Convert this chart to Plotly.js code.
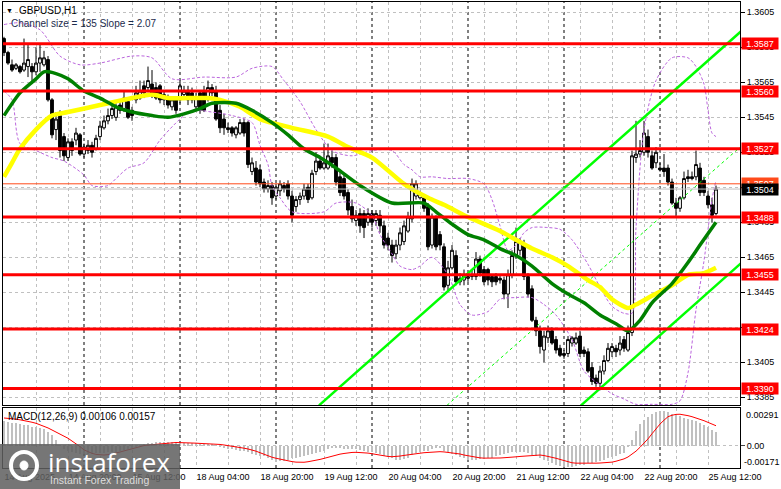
<!DOCTYPE html>
<html><head><meta charset="utf-8">
<script src="https://cdn.plot.ly/plotly-3.0.1.min.js"></script>
<style>html,body{margin:0;padding:0;background:#fff}#chart{width:781px;height:489px}</style>
</head><body><div id="chart"></div>
<script>
// ---- GBPUSD H1 candles (bar 0 = 14 Aug 04:00) ----
const open = [
1.3590,1.3582,1.3575,1.3573,1.3574,1.3572,1.3574,1.3574,1.3571,1.3576,
1.3575,1.3578,1.3555,1.3538,1.3546,1.3534,1.3522,1.3531,1.3532,1.3535,
1.3524,1.3526,1.3529,1.3527,1.3534,1.3539,1.3543,1.3546,1.3545,1.3552,
1.3550,1.3554,1.3549,1.3555,1.3556,1.3563,1.3562,1.3564,1.3562,1.3563,
1.3555,1.3556,1.3551,1.3555,1.3555,1.3558,1.3560,1.3559,1.3551,1.3559,
1.3560,1.3556,1.3562,1.3560,1.3549,1.3544,1.3539,1.3539,1.3535,1.3536,
1.3542,1.3542,1.3514,1.3516,1.3515,1.3508,1.3504,1.3506,1.3500,1.3503,
1.3506,1.3507,1.3500,1.3494,1.3498,1.3500,1.3505,1.3499,1.3514,1.3520,
1.3516,1.3516,1.3522,1.3522,1.3511,1.3510,1.3502,1.3494,1.3486,1.3490,
1.3490,1.3485,1.3490,1.3486,1.3489,1.3483,1.3476,1.3472,1.3467,1.3472,
1.3474,1.3480,1.3487,1.3500,1.3499,1.3499,1.3494,1.3472,1.3488,1.3478,
1.3471,1.3449,1.3459,1.3466,1.3451,1.3452,1.3453,1.3454,1.3454,1.3464,
1.3458,1.3458,1.3454,1.3454,1.3453,1.3452,1.3444,1.3455,1.3466,1.3469,
1.3472,1.3454,1.3447,1.3429,1.3423,1.3412,1.3419,1.3423,1.3418,1.3413,
1.3410,1.3410,1.3416,1.3416,1.3420,1.3412,1.3411,1.3402,1.3396,1.3393,
1.3400,1.3406,1.3411,1.3413,1.3412,1.3418,1.3412,1.3422,1.3522,1.3524,
1.3525,1.3534,1.3523,1.3519,1.3516,1.3516,1.3516,1.3508,1.3496,1.3493,
1.3499,1.3511,1.3511,1.3511,1.3516,1.3509,1.3500,1.3495,1.3490];
const high = [
1.3591,1.3583,1.3578,1.3576,1.3575,1.3590,1.3587,1.3576,1.3585,1.3587,
1.3583,1.3580,1.3556,1.3548,1.3549,1.3536,1.3533,1.3533,1.3539,1.3536,
1.3530,1.3532,1.3531,1.3535,1.3543,1.3546,1.3550,1.3552,1.3553,1.3555,
1.3560,1.3556,1.3551,1.3563,1.3566,1.3566,1.3574,1.3572,1.3565,1.3564,
1.3560,1.3558,1.3557,1.3556,1.3566,1.3563,1.3563,1.3562,1.3559,1.3560,
1.3563,1.3566,1.3564,1.3563,1.3552,1.3547,1.3542,1.3540,1.3540,1.3544,
1.3544,1.3543,1.3522,1.3520,1.3518,1.3510,1.3509,1.3508,1.3507,1.3509,
1.3508,1.3509,1.3503,1.3500,1.3502,1.3507,1.3507,1.3515,1.3525,1.3523,
1.3530,1.3530,1.3526,1.3524,1.3514,1.3512,1.3504,1.3498,1.3492,1.3493,
1.3492,1.3493,1.3492,1.3492,1.3492,1.3486,1.3479,1.3475,1.3475,1.3482,
1.3486,1.3491,1.3510,1.3509,1.3503,1.3500,1.3496,1.3490,1.3489,1.3480,
1.3473,1.3463,1.3472,1.3469,1.3456,1.3458,1.3456,1.3458,1.3468,1.3466,
1.3460,1.3459,1.3455,1.3456,1.3455,1.3454,1.3458,1.3469,1.3482,1.3476,
1.3475,1.3456,1.3449,1.3431,1.3426,1.3423,1.3426,1.3425,1.3420,1.3415,
1.3412,1.3420,1.3420,1.3422,1.3423,1.3414,1.3413,1.3405,1.3398,1.3403,
1.3409,1.3416,1.3416,1.3415,1.3420,1.3420,1.3426,1.3526,1.3543,1.3532,
1.3543,1.3538,1.3526,1.3528,1.3519,1.3524,1.3518,1.3510,1.3499,1.3500,
1.3514,1.3515,1.3514,1.3526,1.3519,1.3511,1.3503,1.3499,1.3506];
const low = [
1.3580,1.3575,1.3571,1.3572,1.3570,1.3571,1.3568,1.3564,1.3569,1.3571,
1.3574,1.3554,1.3533,1.3532,1.3522,1.3520,1.3520,1.3523,1.3529,1.3523,
1.3522,1.3524,1.3522,1.3526,1.3532,1.3538,1.3541,1.3544,1.3543,1.3547,
1.3548,1.3544,1.3543,1.3553,1.3555,1.3556,1.3560,1.3556,1.3555,1.3553,
1.3552,1.3550,1.3549,1.3547,1.3553,1.3555,1.3552,1.3553,1.3549,1.3547,
1.3548,1.3554,1.3557,1.3543,1.3536,1.3535,1.3536,1.3534,1.3533,1.3535,
1.3534,1.3516,1.3512,1.3506,1.3505,1.3502,1.3502,1.3495,1.3498,1.3500,
1.3502,1.3498,1.3485,1.3491,1.3495,1.3498,1.3496,1.3498,1.3512,1.3515,
1.3515,1.3515,1.3516,1.3506,1.3500,1.3498,1.3489,1.3485,1.3483,1.3479,
1.3476,1.3483,1.3482,1.3483,1.3479,1.3470,1.3469,1.3462,1.3464,1.3469,
1.3472,1.3479,1.3485,1.3498,1.3498,1.3491,1.3469,1.3470,1.3469,1.3469,
1.3446,1.3446,1.3458,1.3449,1.3449,1.3449,1.3451,1.3452,1.3452,1.3454,
1.3449,1.3449,1.3448,1.3449,1.3450,1.3441,1.3436,1.3453,1.3464,1.3466,
1.3452,1.3442,1.3428,1.3420,1.3410,1.3405,1.3416,1.3415,1.3410,1.3408,
1.3407,1.3408,1.3414,1.3415,1.3408,1.3408,1.3399,1.3392,1.3391,1.3389,
1.3398,1.3405,1.3408,1.3408,1.3409,1.3411,1.3411,1.3420,1.3519,1.3522,
1.3523,1.3522,1.3515,1.3516,1.3514,1.3511,1.3506,1.3495,1.3488,1.3491,
1.3498,1.3508,1.3509,1.3509,1.3500,1.3500,1.3493,1.3485,1.3489];
const close = [
1.3582,1.3576,1.3572,1.3575,1.3571,1.3576,1.3578,1.3571,1.3576,1.3579,
1.3579,1.3555,1.3535,1.3544,1.3526,1.3523,1.3531,1.3526,1.3536,1.3524,
1.3528,1.3529,1.3525,1.3533,1.3540,1.3543,1.3546,1.3550,1.3551,1.3549,
1.3556,1.3545,1.3546,1.3559,1.3560,1.3559,1.3566,1.3558,1.3556,1.3555,
1.3558,1.3552,1.3555,1.3549,1.3563,1.3560,1.3555,1.3555,1.3556,1.3549,
1.3549,1.3562,1.3559,1.3544,1.3539,1.3539,1.3538,1.3536,1.3539,1.3542,
1.3536,1.3518,1.3519,1.3508,1.3507,1.3504,1.3506,1.3499,1.3505,1.3507,
1.3504,1.3500,1.3489,1.3498,1.3500,1.3504,1.3498,1.3513,1.3520,1.3516,
1.3519,1.3523,1.3519,1.3508,1.3502,1.3500,1.3492,1.3487,1.3489,1.3483,
1.3482,1.3490,1.3485,1.3490,1.3483,1.3472,1.3472,1.3466,1.3472,1.3479,
1.3483,1.3488,1.3507,1.3507,1.3502,1.3493,1.3471,1.3488,1.3471,1.3472,
1.3448,1.3459,1.3469,1.3451,1.3453,1.3455,1.3454,1.3455,1.3464,1.3456,
1.3451,1.3452,1.3451,1.3451,1.3452,1.3444,1.3455,1.3466,1.3474,1.3474,
1.3454,1.3444,1.3429,1.3423,1.3414,1.3420,1.3423,1.3416,1.3412,1.3409,
1.3409,1.3418,1.3419,1.3419,1.3410,1.3410,1.3400,1.3394,1.3393,1.3400,
1.3406,1.3413,1.3414,1.3411,1.3416,1.3413,1.3422,1.3523,1.3524,1.3526,
1.3536,1.3525,1.3516,1.3525,1.3515,1.3514,1.3508,1.3496,1.3493,1.3499,
1.3510,1.3510,1.3510,1.3518,1.3502,1.3502,1.3495,1.3489,1.3504];

// ---- moving averages (sampled: bar index, price) ----
const maGreenBar = [0,4,8,10,13,16,20,24,28,32,37,41,45,49,52,58,62,67,71,75,79,83,89,97,105,108,112,116,120,124,128,132,137,141,145,149,153,156,159,162,167,171,174,178];
const maGreenVal = [1.3546,1.3559,1.3567,1.3571,1.3570,1.3567,1.3560,1.3556,1.3551,1.3548,1.3546,1.3545,1.3547,1.3550,1.3553,1.3553,1.3549,1.3542,1.3535,1.3527,1.3522,1.3516,1.3506,1.3496,1.3496,1.3491,1.3484,1.3478,1.3475,1.3470,1.3466,1.3460,1.3450,1.3444,1.3439,1.3432,1.3427,1.3423,1.3429,1.3439,1.3450,1.3462,1.3472,1.3485];
const maYellowBar = [0,2,4,8,12,16,24,32,37,41,46,51,54,59,64,72,81,86,92,100,106,110,116,124,132,137,141,146,149,152,156,158,162,167,171,175,178];
const maYellowVal = [1.3511,1.3519,1.3527,1.3538,1.3546,1.3548,1.3552,1.3556,1.3558,1.3556,1.3556,1.3556,1.3555,1.3551,1.3544,1.3539,1.3534,1.3528,1.3522,1.3507,1.3499,1.3495,1.3488,1.3480,1.3470,1.3465,1.3460,1.3452,1.3448,1.3441,1.3436,1.3438,1.3443,1.3449,1.3455,1.3456,1.3459];

// ---- envelope bands (dotted purple) ----
const bandUpBar = [0,4,9,14,19,24,32,37,42,50,58,62,67,70,74,78,82,87,92,97,100,102,104,107,111,116,120,122,124,126,128,130,132,136,139,142,146,149,152,155,157,158,160,163,167,171,173,175,176,177,178];
const bandUpVal = [1.3598,1.3599,1.3595,1.3580,1.3575,1.3576,1.3580,1.3579,1.3567,1.3568,1.3568,1.3573,1.3574,1.3566,1.3554,1.3538,1.3526,1.3523,1.3526,1.3526,1.3518,1.3515,1.3511,1.3511,1.3510,1.3510,1.3507,1.3498,1.3483,1.3469,1.3472,1.3479,1.3482,1.3482,1.3481,1.3475,1.3461,1.3448,1.3437,1.3433,1.3433,1.3482,1.3538,1.3566,1.3579,1.3579,1.3574,1.3564,1.3549,1.3536,1.3534];
const bandLoBar = [0,2,4,8,12,15,20,22,26,28,31,35,39,44,47,52,57,62,64,66,67,69,72,80,83,88,92,94,97,99,102,104,107,111,114,117,121,124,128,132,135,138,142,145,149,152,155,158,162,167,169,171,173,175,177,178];
const bandLoVal = [1.3560,1.3555,1.3530,1.3526,1.3522,1.3520,1.3512,1.3506,1.3506,1.3510,1.3516,1.3519,1.3532,1.3544,1.3549,1.3548,1.3546,1.3542,1.3529,1.3518,1.3506,1.3499,1.3491,1.3491,1.3496,1.3496,1.3489,1.3478,1.3467,1.3460,1.3458,1.3460,1.3465,1.3455,1.3438,1.3432,1.3434,1.3441,1.3442,1.3442,1.3438,1.3432,1.3418,1.3400,1.3392,1.3387,1.3384,1.3381,1.3381,1.3381,1.3383,1.3399,1.3435,1.3463,1.3498,1.3509];

// ---- regression channel (bar index, price) ----
const chanUpBar = [78.75, 184.25], chanUpVal = [1.33804, 1.35941];
const chanMidBar = [110.75, 184.25], chanMidVal = [1.33804, 1.35284];
const chanLoBar = [144.25, 184.25], chanLoVal = [1.33804, 1.34616];

// ---- horizontal levels ----
const levels = [1.3587, 1.3560, 1.3527, 1.3488, 1.3455, 1.3424, 1.3390];
const askPrice = 1.3507, bidPrice = 1.3504;

// ---- MACD(12,26,9) ----
const macdHist = [
0.00190,0.00185,0.00180,0.00175,0.00170,0.00165,0.00160,0.00150,0.00145,0.00140,
0.00130,0.00110,0.00085,0.00050,0.00010,-0.00020,-0.00040,-0.00050,-0.00055,-0.00060,
-0.00060,-0.00060,-0.00060,-0.00055,-0.00055,-0.00055,-0.00050,-0.00050,-0.00045,-0.00040,
-0.00030,-0.00025,-0.00015,-0.00005,0.00005,0.00015,0.00020,0.00025,0.00030,0.00030,
0.00030,0.00030,0.00030,0.00025,0.00025,0.00025,0.00025,0.00020,0.00020,0.00015,
0.00015,0.00015,0.00015,0.00005,-0.00005,-0.00015,-0.00020,-0.00025,-0.00030,-0.00035,
-0.00040,-0.00050,-0.00060,-0.00070,-0.00075,-0.00080,-0.00090,-0.00110,-0.00124,-0.00120,
-0.00115,-0.00105,-0.00095,-0.00090,-0.00085,-0.00075,-0.00070,-0.00065,-0.00055,-0.00045,
-0.00035,-0.00025,-0.00015,-0.00015,-0.00015,-0.00020,-0.00020,-0.00020,-0.00025,-0.00030,
-0.00040,-0.00045,-0.00050,-0.00055,-0.00065,-0.00075,-0.00085,-0.00095,-0.00110,-0.00105,
-0.00100,-0.00090,-0.00070,-0.00055,-0.00045,-0.00040,-0.00035,-0.00020,-0.00015,-0.00015,
-0.00035,-0.00050,-0.00065,-0.00070,-0.00085,-0.00095,-0.00105,-0.00110,-0.00105,-0.00100,
-0.00100,-0.00095,-0.00090,-0.00080,-0.00070,-0.00065,-0.00055,-0.00050,-0.00045,-0.00043,
-0.00045,-0.00055,-0.00070,-0.00080,-0.00095,-0.00110,-0.00120,-0.00135,-0.00145,-0.00155,
-0.00160,-0.00163,-0.00160,-0.00155,-0.00150,-0.00145,-0.00135,-0.00130,-0.00125,-0.00115,
-0.00105,-0.00095,-0.00085,-0.00075,-0.00065,-0.00055,-0.00010,0.00050,0.00120,0.00170,
0.00200,0.00225,0.00245,0.00265,0.00275,0.00270,0.00260,0.00245,0.00240,0.00230,
0.00220,0.00210,0.00200,0.00190,0.00175,0.00160,0.00145,0.00125,0.00106];
const macdSignal = [
0.00217,0.00215,0.00212,0.00208,0.00203,0.00198,0.00192,0.00184,0.00176,0.00166,
0.00155,0.00140,0.00124,0.00110,0.00094,0.00076,0.00060,0.00040,0.00020,-0.00005,
-0.00030,-0.00045,-0.00057,-0.00065,-0.00070,-0.00070,-0.00067,-0.00062,-0.00055,-0.00047,
-0.00038,-0.00029,-0.00018,-0.00010,-0.00003,0.00003,0.00007,0.00010,0.00015,0.00019,
0.00023,0.00026,0.00027,0.00027,0.00026,0.00026,0.00025,0.00023,0.00022,0.00020,
0.00019,0.00018,0.00017,0.00015,0.00012,0.00008,0.00004,0.00000,-0.00005,-0.00011,
-0.00017,-0.00023,-0.00030,-0.00040,-0.00052,-0.00065,-0.00078,-0.00087,-0.00095,-0.00103,
-0.00110,-0.00116,-0.00121,-0.00125,-0.00127,-0.00126,-0.00122,-0.00117,-0.00112,-0.00104,
-0.00096,-0.00087,-0.00078,-0.00070,-0.00063,-0.00058,-0.00053,-0.00050,-0.00049,-0.00050,
-0.00052,-0.00055,-0.00060,-0.00066,-0.00072,-0.00078,-0.00081,-0.00083,-0.00082,-0.00078,
-0.00073,-0.00070,-0.00065,-0.00060,-0.00056,-0.00052,-0.00049,-0.00046,-0.00044,-0.00044,
-0.00046,-0.00049,-0.00052,-0.00055,-0.00062,-0.00070,-0.00077,-0.00083,-0.00088,-0.00092,
-0.00094,-0.00095,-0.00095,-0.00094,-0.00093,-0.00091,-0.00090,-0.00087,-0.00084,-0.00081,
-0.00078,-0.00075,-0.00072,-0.00071,-0.00070,-0.00074,-0.00080,-0.00087,-0.00095,-0.00104,
-0.00113,-0.00122,-0.00130,-0.00133,-0.00134,-0.00134,-0.00134,-0.00134,-0.00133,-0.00132,
-0.00131,-0.00130,-0.00125,-0.00118,-0.00110,-0.00100,-0.00085,-0.00065,-0.00040,-0.00010,
0.00020,0.00055,0.00095,0.00135,0.00170,0.00200,0.00227,0.00238,0.00245,0.00246,
0.00242,0.00235,0.00227,0.00218,0.00207,0.00196,0.00183,0.00169,0.00157];

// ---- axis labels ----
const xTickBars = [0,16,32,48,64,80,96,112,128,144,160,176];
const xTickText = ['14 Aug 2025','14 Aug 20:00','15 Aug 12:00','18 Aug 04:00','18 Aug 20:00','19 Aug 12:00','20 Aug 04:00','20 Aug 20:00','21 Aug 12:00','22 Aug 04:00','22 Aug 20:00','25 Aug 12:00'];
const daySeparators = [20,44,68,92,116,140,164];
const priceTicks = [1.3385,1.3405,1.3425,1.3445,1.3465,1.3485,1.3505,1.3525,1.3545,1.3565,1.3585,1.3605];
const macdTicks = [0.00291, 0, -0.00171];

// ---------------------------------------------------------------
const F = 'Liberation Sans, Arial, sans-serif';
const bars = open.map((_, i) => i);
const gridBars = [];
for (let b = 0; b <= 184; b += 8) gridBars.push(b);
const gridText = gridBars.map(b => { const k = xTickBars.indexOf(b); return k >= 0 ? xTickText[k] : ''; });
const GRID = '#c0c0c0';
const PURPLE = '#bb66dd';

const traces = [
  {type:'scatter', mode:'lines', x:bandUpBar, y:bandUpVal, line:{color:PURPLE, width:1, dash:'3px,2px', shape:'spline', smoothing:0.8}, hoverinfo:'skip'},
  {type:'scatter', mode:'lines', x:bandLoBar, y:bandLoVal, line:{color:PURPLE, width:1, dash:'3px,2px', shape:'spline', smoothing:0.8}, hoverinfo:'skip'},
  {type:'scatter', mode:'lines', x:chanMidBar, y:chanMidVal, line:{color:'#00ff00', width:1, dash:'3px,3px'}, hoverinfo:'skip'},
  {type:'scatter', mode:'lines', x:chanUpBar, y:chanUpVal, line:{color:'#00ff00', width:2.5}, hoverinfo:'skip'},
  {type:'scatter', mode:'lines', x:chanLoBar, y:chanLoVal, line:{color:'#00ff00', width:2.5}, hoverinfo:'skip'},
  {type:'scatter', mode:'lines', x:maYellowBar, y:maYellowVal, line:{color:'#ffff00', width:4.5, shape:'spline', smoothing:0.7}, hoverinfo:'skip'},
  {type:'scatter', mode:'lines', x:maGreenBar, y:maGreenVal, line:{color:'#008000', width:3.5, shape:'spline', smoothing:0.7}, hoverinfo:'skip'},
  {type:'candlestick', x:bars, open:open, high:high, low:low, close:close, whiskerwidth:0,
   increasing:{line:{color:'#000000', width:1}, fillcolor:'#ffffff'},
   decreasing:{line:{color:'#000000', width:1}, fillcolor:'#000000'}, hoverinfo:'skip'},
  {type:'bar', x:bars, y:macdHist, xaxis:'x2', yaxis:'y2', marker:{color:'#c0c0c0', line:{width:0}}, width:0.55, hoverinfo:'skip'},
  {type:'scatter', mode:'lines', x:bars, y:macdSignal, xaxis:'x2', yaxis:'y2', line:{color:'#ff0000', width:1}, hoverinfo:'skip'}
];

// pixel helpers for paper coords (plot area: x 3..740, y 2..468)
const px = v => (v - 3) / 737;
const py = v => (468 - v) / 466;

const shapes = [];
levels.forEach(l => shapes.push({type:'line', xref:'x domain', x0:0, x1:1, yref:'y', y0:l, y1:l, line:{color:'#ff0000', width:3}, layer:'above'}));
shapes.push({type:'line', xref:'x domain', x0:0, x1:1, yref:'y', y0:askPrice, y1:askPrice, line:{color:'#ff4a1a', width:1}, layer:'above'});
shapes.push({type:'line', xref:'x domain', x0:0, x1:1, yref:'y', y0:bidPrice, y1:bidPrice, line:{color:'#c0c0c0', width:1}, layer:'above'});
daySeparators.forEach(d => {
  shapes.push({type:'line', xref:'x', x0:d, x1:d, yref:'y domain', y0:0, y1:1, line:{color:'#000', width:1, dash:'3px,3px'}, layer:'below'});
  shapes.push({type:'line', xref:'x2', x0:d, x1:d, yref:'y2 domain', y0:0, y1:1, line:{color:'#000', width:1, dash:'3px,3px'}, layer:'below'});
});
// watermark box + icon
shapes.push({type:'rect', xref:'paper', yref:'paper', x0:px(0), x1:px(180), y0:py(489), y1:py(444), fillcolor:'rgba(95,95,95,0.86)', line:{width:0}, layer:'above'});
shapes.push({type:'circle', xref:'paper', yref:'paper', x0:px(11), x1:px(37), y0:py(479), y1:py(452), line:{color:'#ffffff', width:4}, layer:'above'});
shapes.push({type:'circle', xref:'paper', yref:'paper', x0:px(20), x1:px(28), y0:py(470), y1:py(461), fillcolor:'#ffffff', line:{color:'#ffffff', width:1}, layer:'above'});

const annotations = [];
levels.forEach(l => annotations.push({xref:'paper', x:1, xanchor:'left', xshift:1, yref:'y', y:l, yanchor:'middle', text:l.toFixed(4), showarrow:false, bgcolor:'#ff0000', font:{family:F, size:9, color:'#ffffff'}, width:36, height:11, borderpad:0}));
annotations.push({xref:'paper', x:1, xanchor:'left', xshift:1, yref:'y', y:askPrice, yanchor:'middle', text:askPrice.toFixed(4), showarrow:false, bgcolor:'#ff4a1a', font:{family:F, size:9, color:'#ffffff'}, width:36, height:11, borderpad:0});
annotations.push({xref:'paper', x:1, xanchor:'left', xshift:1, yref:'y', y:bidPrice, yanchor:'middle', text:bidPrice.toFixed(4), showarrow:false, bgcolor:'#000000', font:{family:F, size:9, color:'#ffffff'}, width:36, height:11, borderpad:0});
annotations.push({xref:'paper', yref:'paper', x:px(9), y:py(10), xanchor:'center', yanchor:'middle', text:'▼', showarrow:false, font:{family:F, size:7, color:'#000'}});
annotations.push({xref:'paper', yref:'paper', x:px(17), y:py(10), xanchor:'left', yanchor:'middle', text:'GBPUSD,H1', showarrow:false, font:{family:F, size:10, color:'#000'}});
annotations.push({xref:'paper', yref:'paper', x:px(9), y:py(23.5), xanchor:'left', yanchor:'middle', text:'Channel size = 135 Slope = 2.07', showarrow:false, font:{family:F, size:10, color:'#1c2b4c'}});
annotations.push({xref:'paper', yref:'paper', x:px(6), y:py(416.5), xanchor:'left', yanchor:'middle', text:'MACD(12,26,9) 0.00106 0.00157', showarrow:false, font:{family:F, size:10, color:'#000'}});
annotations.push({xref:'paper', yref:'paper', x:px(744), y:py(415), xanchor:'left', yanchor:'middle', text:macdTicks[0].toFixed(5), showarrow:false, font:{family:F, size:9, color:'#000'}});
annotations.push({xref:'paper', yref:'paper', x:px(742), y:py(462), xanchor:'left', yanchor:'middle', text:macdTicks[2].toFixed(5), showarrow:false, font:{family:F, size:9, color:'#000'}});
annotations.push({xref:'paper', yref:'paper', x:px(46), y:py(462), xanchor:'left', yanchor:'middle', text:'instaforex', showarrow:false, font:{family:'Open Sans, Liberation Sans, sans-serif', size:26, color:'#ffffff'}});
annotations.push({xref:'paper', yref:'paper', x:px(48), y:py(480), xanchor:'left', yanchor:'middle', text:'Instant Forex Trading', showarrow:false, font:{family:F, size:10.5, color:'#dddddd'}});

const axBase = {showline:true, mirror:true, linecolor:'#000', linewidth:1, zeroline:false, fixedrange:true};
const layout = {
  width:781, height:489, margin:{l:3, r:41, t:2, b:21},
  paper_bgcolor:'#ffffff', plot_bgcolor:'#ffffff', showlegend:false,
  boxgap:0.3, boxgroupgap:0, bargap:0,
  font:{family:F, size:9, color:'#000'},
  xaxis: Object.assign({}, axBase, {domain:[0,1], anchor:'y', range:[-0.25,184], tickvals:gridBars, showticklabels:false, ticks:'', showgrid:true, gridcolor:GRID, griddash:'3px,3px', gridwidth:1, rangeslider:{visible:false}}),
  yaxis: Object.assign({}, axBase, {domain:[0.1352,1], anchor:'x', range:[1.33806,1.36109], side:'right', tickvals:priceTicks, ticktext:priceTicks.map(v=>v.toFixed(4)), ticks:'outside', ticklen:4, tickcolor:'#000', showgrid:true, gridcolor:GRID, griddash:'3px,3px', tickfont:{family:F, size:9, color:'#000'}}),
  xaxis2: Object.assign({}, axBase, {domain:[0,1], anchor:'y2', range:[-0.25,184], tickvals:gridBars, ticktext:gridText, ticklabelposition:'outside right', ticks:'', showgrid:true, gridcolor:GRID, griddash:'3px,3px', tickfont:{family:F, size:9, color:'#000'}}),
  yaxis2: Object.assign({}, axBase, {domain:[0,0.1288], anchor:'x2', range:[-0.001705,0.002946], side:'right', tickvals:[macdTicks[1]], ticktext:['0.00'], ticks:'outside', ticklen:4, showgrid:true, gridcolor:GRID, griddash:'3px,3px', tickfont:{family:F, size:9, color:'#000'}}),
  shapes: shapes, annotations: annotations
};
Plotly.newPlot('chart', traces, layout, {staticPlot:true, displayModeBar:false});
</script></body></html>
